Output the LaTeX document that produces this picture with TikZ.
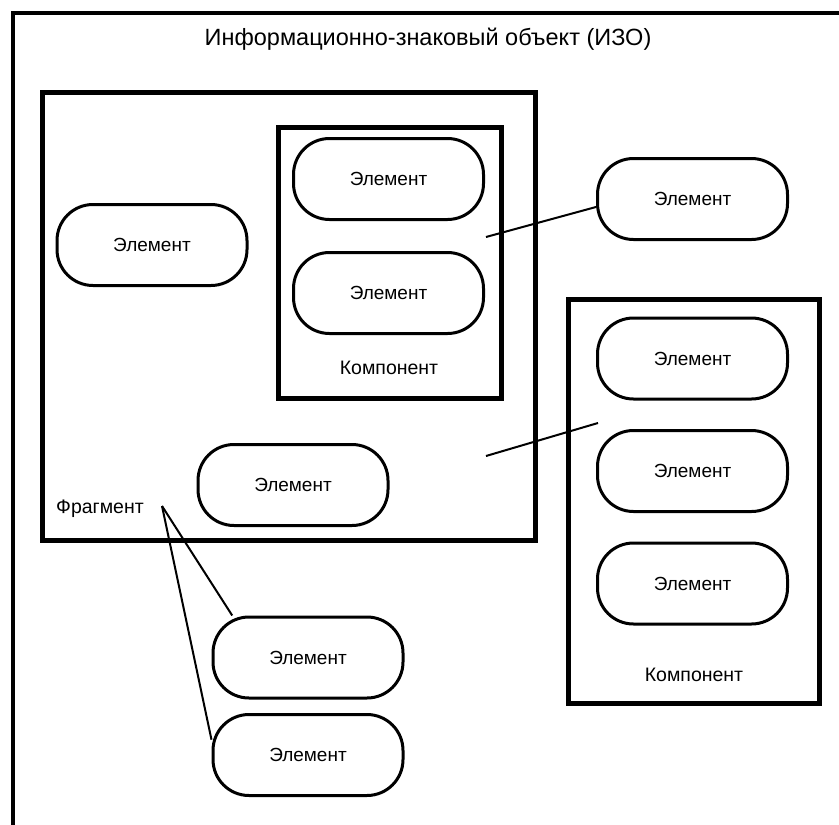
\documentclass[tikz,border=0pt]{standalone}
\usepackage{fontspec}
\setmainfont{Liberation Sans}
\begin{document}
\begin{tikzpicture}[x=1pt, y=-1pt,
  elem/.style={draw, line width=3pt, rounded corners=36pt, minimum width=190pt, minimum height=81pt, font=\fontsize{19}{21}\selectfont},
  box/.style={draw, line width=5pt, inner sep=0pt},
  lbl/.style={font=\fontsize{19.5}{21}\selectfont},
  link/.style={line width=2pt}]
\useasboundingbox (0,0) rectangle (839,825);
\draw[line width=3.5pt] (839,13) -- (13,13) -- (13,825);
\node[font=\fontsize{23.5}{26}\selectfont] (T) at (428,39) {Информационно-знаковый объект (ИЗО)};
\node[box, minimum width=493pt, minimum height=448pt] (F) at (288.5,316) {};
\node[lbl] (F_l) at (100,509) {Фрагмент};
\node[box, minimum width=223pt, minimum height=271pt] (K_1) at (389.5,262.5) {};
\node[lbl] (K_1_l) at (389,368) {Компонент};
\node[box, minimum width=251pt, minimum height=404pt] (K_2) at (693.5,501) {};
\node[lbl] (K_2_l) at (694,675) {Компонент};
\node[elem] (E_c1) at (388.5,179) {Элемент};
\node[elem] (E_c2) at (388.5,293) {Элемент};
\node[elem] (E_l) at (152,245) {Элемент};
\node[elem] (E_f) at (293,485) {Элемент};
\node[elem] (E_r0) at (692.5,199) {Элемент};
\node[elem] (E_r1) at (692.5,358.5) {Элемент};
\node[elem] (E_r2) at (692.5,471) {Элемент};
\node[elem] (E_r3) at (692.5,583.5) {Элемент};
\node[elem] (E_b1) at (308,657.5) {Элемент};
\node[elem] (E_b2) at (308,755) {Элемент};
\coordinate (c_1) at (486,237);
\draw[link] (c_1) -- ([yshift=-8pt]E_r0.west);
\coordinate (c_2a) at (486,456);
\coordinate (c_2b) at (598,423);
\draw[link] (c_2a) -- (c_2b);
\coordinate (fork) at (162,506);
\draw[link] (fork) -- (E_b1.151);
\draw[link] (fork) -- (E_b2.171);
\end{tikzpicture}
\end{document}
